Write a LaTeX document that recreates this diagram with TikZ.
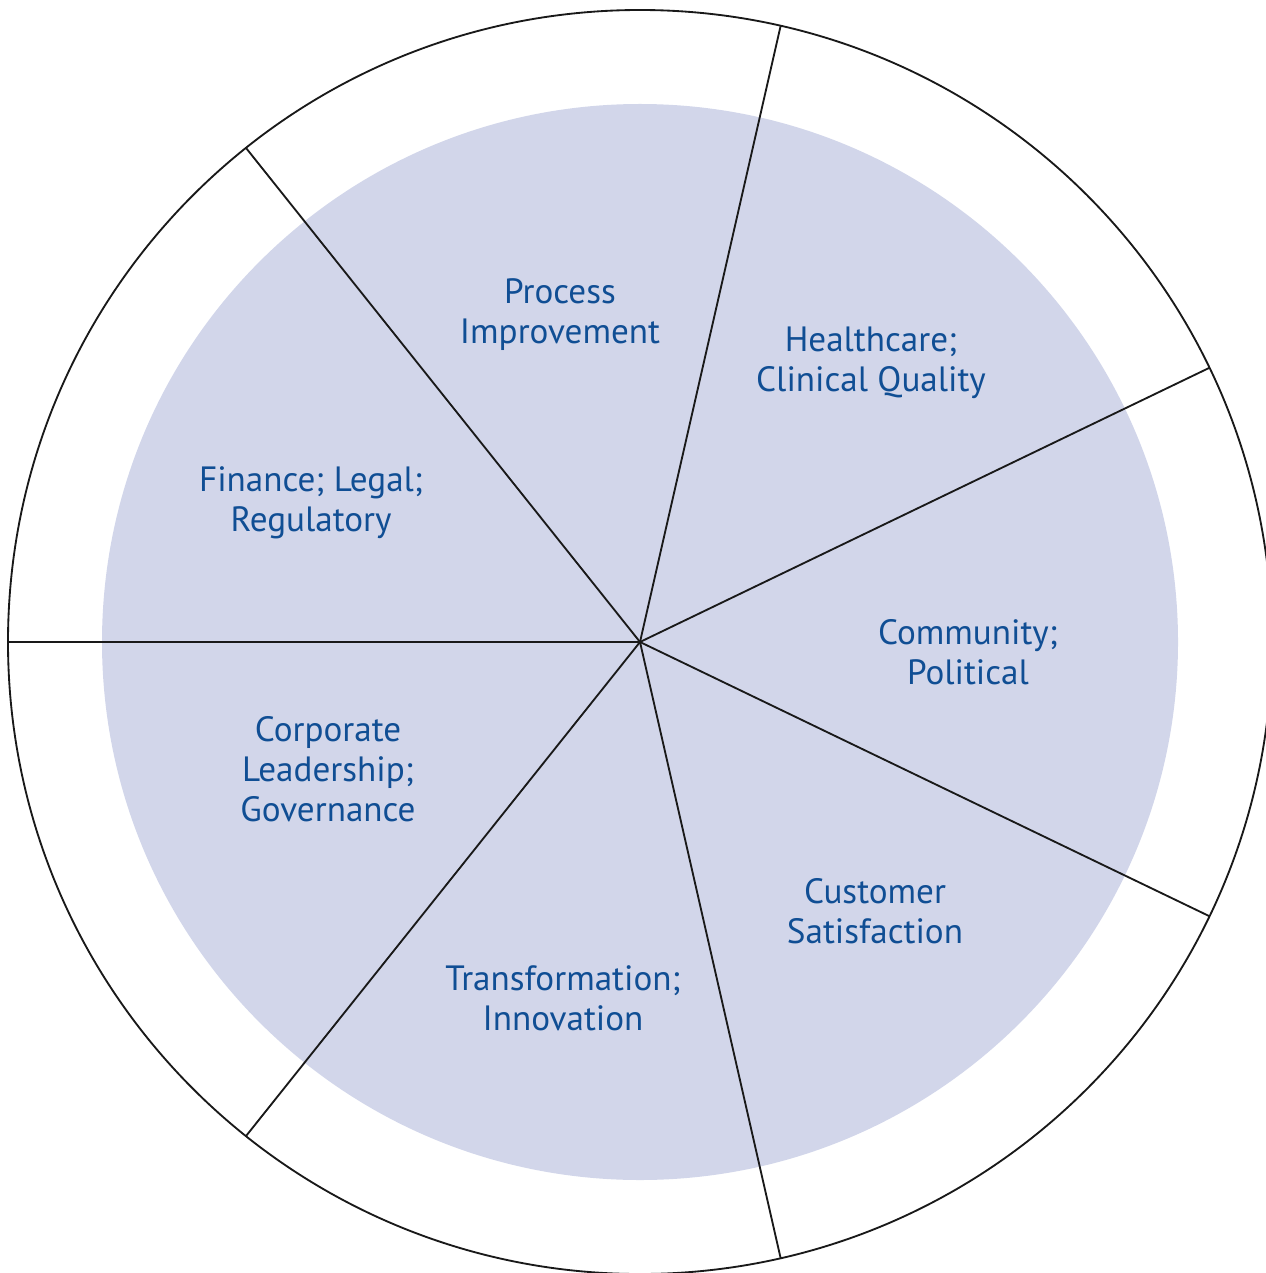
\documentclass[tikz,border=0pt]{standalone}
\usepackage{fontspec}
\setmainfont{PT Sans}
\usetikzlibrary{calc}
\definecolor{wheelfill}{RGB}{210,214,234}
\definecolor{labelblue}{RGB}{16,78,148}
\begin{document}
\begin{tikzpicture}[x=0.02cm,y=-0.02cm,
  spoke/.style={draw=black!90,line width=1.05pt},
  lbl/.style={text=labelblue,align=center,font=\fontsize{20}{22.8}\selectfont,inner sep=0pt}]
\useasboundingbox (0,0) rectangle (1266,1273);
\coordinate (c) at (640,642);
\fill[wheelfill] (c) circle[radius=538];
\draw[spoke] (c) circle[radius=632];
\foreach \a [count=\i] in {180,128.5714,77.1429,25.7143,-25.7143,-77.1429,-128.5714}{
  \coordinate (e\i) at ($(c)+(\a:632 and -632)$);
}
\foreach \i in {1,...,7}{\draw[spoke] (c) -- (e\i);}
\node[lbl] (pi) at (560,315) {Process\\Improvement};
\node[lbl] (hc) at (871,363) {Healthcare;\\Clinical Quality};
\node[lbl] (fl) at (311,503) {Finance; Legal;\\Regulatory};
\node[lbl] (cp) at (968,652) {Community;\\Political};
\node[lbl] (cl) at (328,769) {Corporate\\Leadership;\\Governance};
\node[lbl] (cs) at (875,911) {Customer\\Satisfaction};
\node[lbl] (ti) at (563,998) {Transformation;\\Innovation};
\end{tikzpicture}
\end{document}
